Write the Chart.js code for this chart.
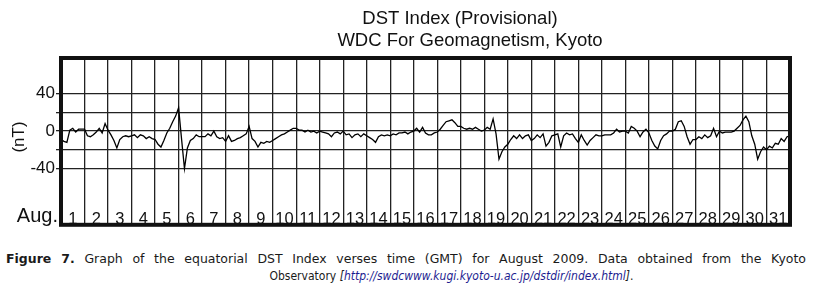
<!DOCTYPE html>
<html>
<head>
<meta charset="utf-8">
<script src="https://cdn.jsdelivr.net/npm/chart.js@4"></script>
<style>
  body { margin: 0; background: #fff; width: 819px; height: 291px; overflow: hidden; position: relative; }
  #wrap { position: absolute; left: 0; top: 0; width: 819px; height: 236px; }
  .cap { position: absolute; font-family: 'DejaVu Sans', Verdana, sans-serif; font-size: 12.5px; line-height: 14px; color: #1a1a1a; white-space: nowrap; }
  #cap1 { left: 6px; top: 252px; width: 800px; text-align: justify; text-align-last: justify; white-space: normal; }
  #cap2 { left: 0; top: 269px; width: 903px; text-align: center; font-size: 12px; font-family: 'DejaVu Sans Condensed', 'DejaVu Sans', sans-serif; font-stretch: condensed; }
  .link { color: #1c1c90; }
</style>
</head>
<body>
<div id="wrap"><canvas id="dstChart"></canvas></div>
<div class="cap" id="cap1"><b>Figure 7.</b> Graph of the equatorial DST Index verses time (GMT) for August 2009. Data obtained from the Kyoto</div>
<div class="cap" id="cap2">Observatory <i>[<span class="link">http://swdcwww.kugi.kyoto-u.ac.jp/dstdir/index.html</span>]</i>.</div>
<script>
  // Titles
  const titleLines = ['DST Index (Provisional)', 'WDC For Geomagnetism, Kyoto'];
  const monthLabel = 'Aug.';
  const unitLabel = '(nT)';

  // Days of August 2009 (one cell per day)
  const dayLabels = ['1','2','3','4','5','6','7','8','9','10','11','12','13','14','15','16',
    '17','18','19','20','21','22','23','24','25','26','27','28','29','30','31'];

  // Y axis: gridlines and labelled ticks
  const yGrid = [-40, -20, 0, 20, 40];
  const yLabelled = [40, 0, -40];

  // DST (nT), every 3 hours, one row per day
  const dst3h = [
    -9, -11, -12, 1, 3, -1, 2, 2,        // 1
    2, -5, -6, -4, -1, 3, -2, 8,         // 2
    1, -4, -10, -18, -9, -6, -5, -6,     // 3
    -5, -4, -7, -4, -5, -8, -6, -8,      // 4
    -9, -14, -17, -10, -2, 3, 10, 16,    // 5
    25, -8, -40, -18, -10, -8, -4, -6,   // 6
    -6, -6, -3, -5, 0, -6, -8, -7,       // 7
    -11, -5, -11, -10, -8, -7, -5, -3,   // 8
    5, -8, -11, -17, -12, -13, -11, -12, // 9
    -10, -8, -6, -4, -3, -1, 1, 3,       // 10
    3, 1, 1, -1, 1, -1, 0, -2,           // 11
    0, -1, -2, -3, -6, -2, -1, -3,       // 12
    0, -4, -3, -7, -4, -3, -6, -3,       // 13
    -5, -7, -9, -12, -6, -4, -5, -4,     // 14
    -5, -3, -4, -2, -2, -1, -3, -1,      // 15
    0, 3, -1, 4, -2, -4, -4, -2,         // 16
    -1, 2, 6, 10, 11, 12, 9, 5,          // 17
    5, 3, 2, 3, 2, 4, 2, 0,              // 18
    1, 4, 2, 13, -3, -30, -22, -17,      // 19
    -14, -9, -5, -8, -4, -8, -5, -4,     // 20
    -10, -8, -4, -7, -3, -16, -12, -5,   // 21
    -4, -3, -17, -5, -2, -4, -3, -8,     // 22
    -12, -4, -10, -15, -10, -7, -4, -5,  // 23
    -5, -4, -4, -4, -2, 2, -1, 0,        // 24
    0, -2, 5, 3, 0, -6, -1, 2,           // 25
    -2, -10, -16, -19, -10, -5, -3, 0,   // 26
    0, 2, 10, 11, 5, -6, -14, -9,        // 27
    -9, -6, -8, -4, -7, -5, 3, -6,       // 28
    0, -2, -1, -1, -1, 0, 3, 6,          // 29
    12, 16, 10, -5, -14, -30, -22, -17,  // 30
    -20, -16, -18, -13, -14, -8, -11, -6, // 31
    -5
  ];
  const stepsPerDay = 8;

  const points = dst3h.map((v, i) => ({ x: i / stepsPerDay, y: v }));

  const FONT = "'Liberation Sans', Arial, sans-serif";

  const decorPlugin = {
    id: 'decor',
    afterDraw(chart) {
      const { ctx, chartArea: a, scales } = chart;
      const xs = scales.x;
      ctx.save();
      // frame
      ctx.strokeStyle = '#111';
      ctx.lineWidth = 4;
      ctx.strokeRect(a.left, a.top, a.right - a.left, a.bottom - a.top);
      ctx.fillStyle = '#111';
      // titles
      ctx.font = '18.5px ' + FONT;
      ctx.textAlign = 'center';
      ctx.textBaseline = 'alphabetic';
      ctx.fillText(titleLines[0], 460, 24);
      ctx.fillText(titleLines[1], 470, 46);
      // day numbers inside the bottom of the frame
      ctx.font = '16.5px ' + FONT;
      dayLabels.forEach((d, i) => {
        ctx.fillText(d, xs.getPixelForValue(i + 0.5), 223.5);
      });
      ctx.font = '20px ' + FONT;
      ctx.textAlign = 'right';
      ctx.fillText(monthLabel, a.left - 3, 222);
      // unit label
      ctx.translate(19, 137);
      ctx.rotate(-Math.PI / 2);
      ctx.textAlign = 'center';
      ctx.textBaseline = 'middle';
      ctx.font = '17px ' + FONT;
      ctx.fillText(unitLabel, 0, 0);
      ctx.restore();
    }
  };

  new Chart(document.getElementById('dstChart'), {
    type: 'line',
    data: {
      datasets: [{
        data: points,
        borderColor: '#000',
        borderWidth: 1.3,
        pointRadius: 0,
        tension: 0,
        fill: false
      }]
    },
    options: {
      responsive: true,
      maintainAspectRatio: false,
      animation: false,
      events: [],
      layout: { padding: { top: 58, right: 29, bottom: 7, left: 0 } },
      plugins: { legend: { display: false }, tooltip: { enabled: false }, title: { display: false } },
      scales: {
        x: {
          type: 'linear',
          min: 0,
          max: dayLabels.length,
          afterBuildTicks: s => { s.ticks = dayLabels.slice(1).map((_, i) => ({ value: i + 1 })); },
          afterFit: s => { s.height = 0; },
          ticks: { display: false },
          border: { display: false },
          grid: { color: '#222', lineWidth: 1.3, drawTicks: false }
        },
        y: {
          type: 'linear',
          min: -100,
          max: 78,
          afterBuildTicks: s => { s.ticks = yGrid.map(v => ({ value: v })); },
          afterFit: s => { s.width = 61; },
          border: { display: false },
          grid: { color: '#222', lineWidth: 1.3, tickLength: 5, tickColor: '#222' },
          ticks: {
            padding: 1,
            color: '#111',
            font: { family: FONT, size: 17 },
            callback: v => yLabelled.includes(v) ? String(v) : ''
          }
        }
      }
    },
    plugins: [decorPlugin]
  });
</script>
</body>
</html>
